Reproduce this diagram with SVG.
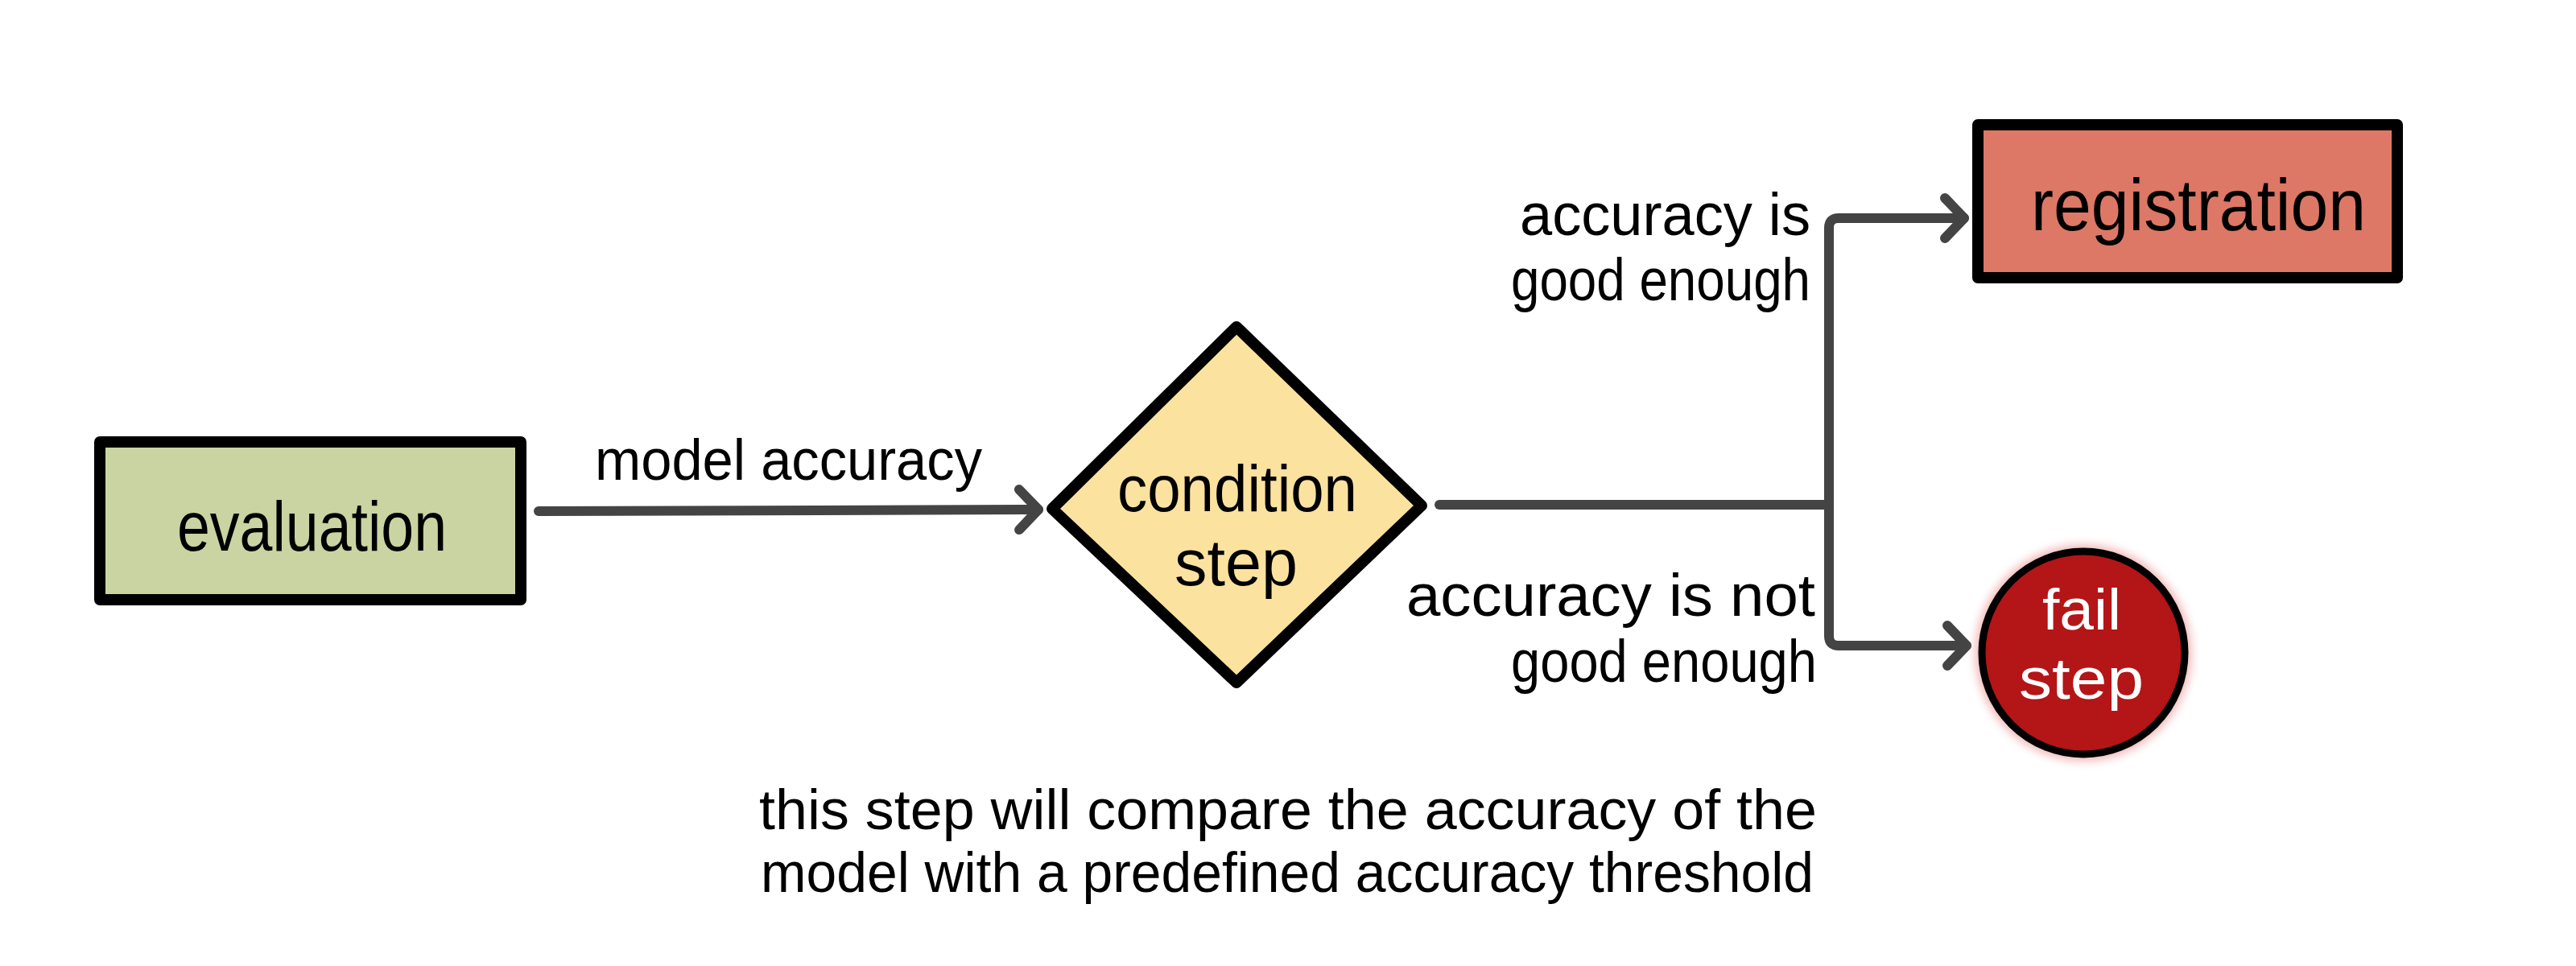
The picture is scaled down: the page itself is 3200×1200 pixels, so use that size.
<svg xmlns="http://www.w3.org/2000/svg" width="3200" height="1200" viewBox="0 0 3200 1200">
<style>
.hand{font-family:"Liberation Sans","DejaVu Sans",sans-serif;fill:#000}
.box{stroke:#000;stroke-width:14;stroke-linejoin:round}
.conn{fill:none;stroke:#444;stroke-width:12;stroke-linecap:round;stroke-linejoin:round}
</style>
<defs>
<marker id="arr" markerUnits="userSpaceOnUse" markerWidth="70" markerHeight="70" refX="36" refY="35" orient="auto" viewBox="0 0 70 70">
<path d="M12,10 L36,35 L12,60" fill="none" stroke="#444" stroke-width="12" stroke-linecap="round" stroke-linejoin="round"/>
</marker>
<filter id="halo" x="-30%" y="-30%" width="160%" height="160%"><feGaussianBlur stdDeviation="6"/></filter>
</defs>
<rect width="3200" height="1200" fill="#fff"/>
<g id="connectors">
<path class="conn" d="M669,635 L1290,633" marker-end="url(#arr)"/>
<path class="conn" d="M1788,627 H2272"/>
<path class="conn" d="M2272,627 V283 Q2272,271 2284,271 H2440" marker-end="url(#arr)"/>
<path class="conn" d="M2272,627 V790 Q2272,802 2284,802 H2443" marker-end="url(#arr)"/>
</g>
<g id="evaluation">
<rect class="box" x="124" y="549" width="523" height="196" fill="#cad4a2"/>
<text class="hand" x="220" y="684" font-size="88" textLength="335" lengthAdjust="spacingAndGlyphs">evaluation</text>
</g>
<g id="label-model-accuracy">
<text class="hand" x="739" y="596" font-size="72" textLength="481" lengthAdjust="spacingAndGlyphs">model accuracy</text>
</g>
<g id="condition-step">
<path class="box" d="M1536,406 L1766,628 L1536,848 L1307,632 Z" fill="#fbe29f"/>
<text class="hand" x="1388" y="635" font-size="82" textLength="298" lengthAdjust="spacingAndGlyphs">condition</text>
<text class="hand" x="1459" y="727" font-size="82" textLength="153" lengthAdjust="spacingAndGlyphs">step</text>
</g>
<g id="registration">
<rect class="box" x="2457" y="155" width="521" height="190" fill="#dd7866"/>
<text class="hand" x="2523" y="286" font-size="90" textLength="416" lengthAdjust="spacingAndGlyphs">registration</text>
</g>
<g id="fail-step">
<circle cx="2588" cy="811" r="134" fill="#e88080" filter="url(#halo)" opacity="0.6"/>
<circle cx="2588" cy="811" r="126" fill="#b41517" stroke="#000" stroke-width="9"/>
<text class="hand" x="2537" y="782" font-size="72" style="fill:#fff" textLength="98" lengthAdjust="spacingAndGlyphs">fail</text>
<text class="hand" x="2508" y="868" font-size="72" style="fill:#fff" textLength="155" lengthAdjust="spacingAndGlyphs">step</text>
</g>
<g id="label-good">
<text class="hand" x="1888" y="292" font-size="74" textLength="361" lengthAdjust="spacingAndGlyphs">accuracy is</text>
<text class="hand" x="1877" y="373" font-size="74" textLength="372" lengthAdjust="spacingAndGlyphs">good enough</text>
</g>
<g id="label-not-good">
<text class="hand" x="1747" y="765" font-size="74" textLength="508" lengthAdjust="spacingAndGlyphs">accuracy is not</text>
<text class="hand" x="1877" y="847" font-size="74" textLength="380" lengthAdjust="spacingAndGlyphs">good enough</text>
</g>
<g id="note">
<text class="hand" x="943" y="1030" font-size="70" textLength="1314" lengthAdjust="spacingAndGlyphs">this step will compare the accuracy of the</text>
<text class="hand" x="945" y="1108" font-size="70" textLength="1308" lengthAdjust="spacingAndGlyphs">model with a predefined accuracy threshold</text>
</g>
</svg>
